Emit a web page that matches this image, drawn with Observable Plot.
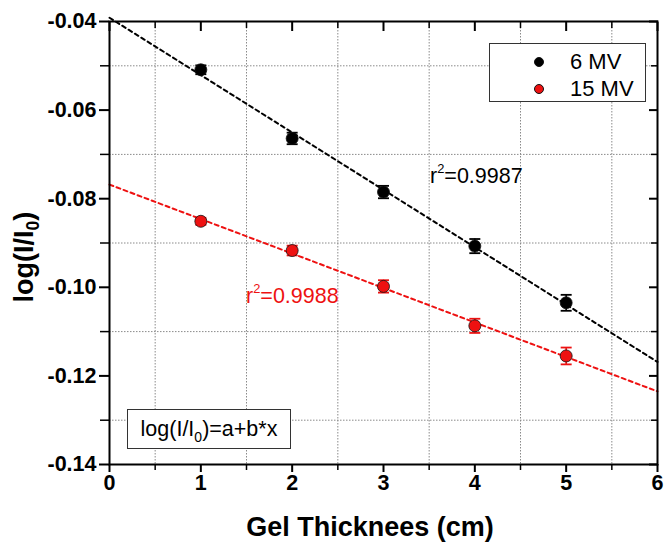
<!DOCTYPE html>
<html><head><meta charset="utf-8">
<script src="https://cdn.jsdelivr.net/npm/d3@7"></script>
<script src="https://cdn.jsdelivr.net/npm/@observablehq/plot@0.6"></script>
<style>
body{margin:0;background:#fff;}
#wrap{position:relative;width:665px;height:542px;font-family:"Liberation Sans",Arial,sans-serif;color:#000;}
.ov{position:absolute;white-space:nowrap;}
.box{position:absolute;border:1.3px solid #333;background:#fff;box-sizing:border-box;}
</style></head><body><div id="wrap"></div>
<script>
// ---- data ----
const thickness = [1, 2, 3, 4, 5];
const mv6 = [-0.0509, -0.0664, -0.0785, -0.0907, -0.1035];
const mv6Err = [0.0010, 0.0013, 0.0014, 0.0016, 0.0018];
const mv15 = [-0.0851, -0.0917, -0.0998, -0.1087, -0.1155];
const mv15Err = [0.0008, 0.0011, 0.0014, 0.0016, 0.0019];
const seriesNames = ["6 MV", "15 MV"];
const r2Values = ["0.9987", "0.9988"];
const xTicks = [0, 1, 2, 3, 4, 5, 6];
const xMinor = [0.5, 1.5, 2.5, 3.5, 4.5, 5.5];
const yTicks = [-0.04, -0.06, -0.08, -0.10, -0.12, -0.14];
const yMinor = [-0.05, -0.07, -0.09, -0.11, -0.13];

const RED = "#ee1111";
const rows = [];
[[mv6, mv6Err], [mv15, mv15Err]].forEach(([vals, errs], s) => {
  thickness.forEach((x, i) => rows.push({series: seriesNames[s], x, y: vals[i], e: errs[i]}));
});
// least-squares fit lines across the x domain
const xDom = [d3.min(xTicks), d3.max(xTicks)];
const fitRows = [];
[mv6, mv15].forEach((vals, s) => {
  const mx = d3.mean(thickness), my = d3.mean(vals);
  const b = d3.sum(thickness, (x, i) => (x - mx) * (vals[i] - my)) / d3.sum(thickness, x => (x - mx) ** 2);
  const a = my - b * mx;
  xDom.forEach(x => fitRows.push({series: seriesNames[s], x, y: a + b * x}));
});
const cap = {draw(ctx, size) { const r = Math.sqrt(size / Math.PI); ctx.moveTo(-r, 0); ctx.lineTo(r, 0); }};
const gridStyle = {stroke: "#8a8a8a", strokeOpacity: 1, strokeWidth: 1, strokeDasharray: "1.5,1.5"};
const tickFont = {fontSize: 21.5, fontWeight: "bold"};

const plot = Plot.plot({
  width: 665, height: 542,
  marginLeft: 109, marginRight: 8, marginTop: 21, marginBottom: 78,
  x: {domain: xDom},
  y: {domain: [d3.min(yTicks), d3.max(yTicks)]},
  color: {domain: seriesNames, range: ["#000000", RED]},
  style: {fontFamily: "'Liberation Sans', Arial, sans-serif", background: "white", color: "black"},
  marks: [
    Plot.gridX(xMinor, gridStyle),
    Plot.gridY(yMinor, gridStyle),
    Plot.line(fitRows, {x: "x", y: "y", z: "series", stroke: "series", strokeWidth: 2, strokeDasharray: "4,3.5"}),
    Plot.ruleX(rows, {x: "x", y1: d => d.y - d.e, y2: d => d.y + d.e, stroke: "series", strokeWidth: 1.6}),
    Plot.dot(rows, {x: "x", y: d => d.y - d.e, symbol: cap, r: 5.5, stroke: "series", strokeWidth: 1.8}),
    Plot.dot(rows, {x: "x", y: d => d.y + d.e, symbol: cap, r: 5.5, stroke: "series", strokeWidth: 1.8}),
    Plot.dot(rows, {x: "x", y: "y", r: 6, fill: "series", stroke: "#111", strokeWidth: 0.8}),
    Plot.frame({stroke: "black", strokeWidth: 2}),
    // bottom
    Plot.axisX({ticks: xTicks, tickSize: 8, tickPadding: 2, strokeWidth: 2, label: null, tickFormat: d => String(d), ...tickFont}),
    Plot.axisX({ticks: xMinor, tickSize: 6, tickFormat: () => "", strokeWidth: 1.5, label: null}),
    // top (inward)
    Plot.axisX({anchor: "top", ticks: xTicks, tickSize: 9, dy: 9, tickFormat: () => "", strokeWidth: 2, label: null}),
    Plot.axisX({anchor: "top", ticks: xMinor, tickSize: 6, dy: 6, tickFormat: () => "", strokeWidth: 1.5, label: null}),
    // left
    Plot.axisY({ticks: yTicks, tickSize: 10, tickPadding: 3, strokeWidth: 2, label: null, tickFormat: d => d.toFixed(2), ...tickFont}),
    Plot.axisY({ticks: yMinor, tickSize: 9, tickFormat: () => "", strokeWidth: 1.5, label: null}),
    // right (inward)
    Plot.axisY({anchor: "right", ticks: yTicks, tickSize: 9, dx: -9, tickFormat: () => "", strokeWidth: 2, label: null}),
    Plot.axisY({anchor: "right", ticks: yMinor, tickSize: 7, dx: -7, tickFormat: () => "", strokeWidth: 1.5, label: null})
  ]
});
const wrap = document.getElementById("wrap");
wrap.appendChild(plot);

function add(html, style, cls = "ov") {
  const d = document.createElement("div");
  d.className = cls; d.innerHTML = html; d.setAttribute("style", style);
  wrap.appendChild(d); return d;
}
// axis titles
add("Gel Thicknees (cm)", "left:0;width:740px;text-align:center;top:512px;font-size:27px;font-weight:bold;line-height:30px;");
const yl = add("log(I/I<sub style='font-size:0.65em;vertical-align:-0.35em'>0</sub>)",
  "left:0;top:0;font-size:27px;font-weight:bold;line-height:30px;transform-origin:0 0;");
{
  const w = yl.offsetWidth, h = yl.offsetHeight;
  // rotate -90° and center on (28, 257)
  yl.style.transform = `translate(${28 - h / 2}px, ${257 + w / 2}px) rotate(-90deg)`;
}
// r² annotations
add("r<sup style='font-size:0.6em;vertical-align:0.75em'>2</sup>=" + r2Values[0], "left:430px;top:157px;font-size:21.5px;line-height:24px;color:#000;");
add("r<sup style='font-size:0.6em;vertical-align:0.75em'>2</sup>=" + r2Values[1], "left:246px;top:277px;font-size:21.5px;line-height:24px;color:" + RED + ";");
// legend
const lg = add("", "left:489px;top:43px;width:157px;height:59px;", "box");
seriesNames.forEach((n, i) => {
  const col = i === 0 ? "#000" : RED;
  const row = document.createElement("div");
  row.setAttribute("style", `position:absolute;left:0;top:${6 + i * 27}px;height:24px;width:150px;`);
  row.innerHTML = `<span style="position:absolute;left:44px;top:7px;width:10px;height:10px;border-radius:50%;background:${col};border:0.8px solid #111;box-sizing:border-box;"></span>` +
    `<span style="position:absolute;left:80px;top:0;font-size:22px;line-height:24px;">${n}</span>`;
  lg.appendChild(row);
});
// formula box
add("<div style='text-align:center;font-size:21.5px;line-height:38px;'>log(I/I<sub style='font-size:0.65em;vertical-align:-0.4em'>0</sub>)=a+b*x</div>",
  "left:127px;top:409px;width:164px;height:40px;", "box");
</script>
</body></html>
